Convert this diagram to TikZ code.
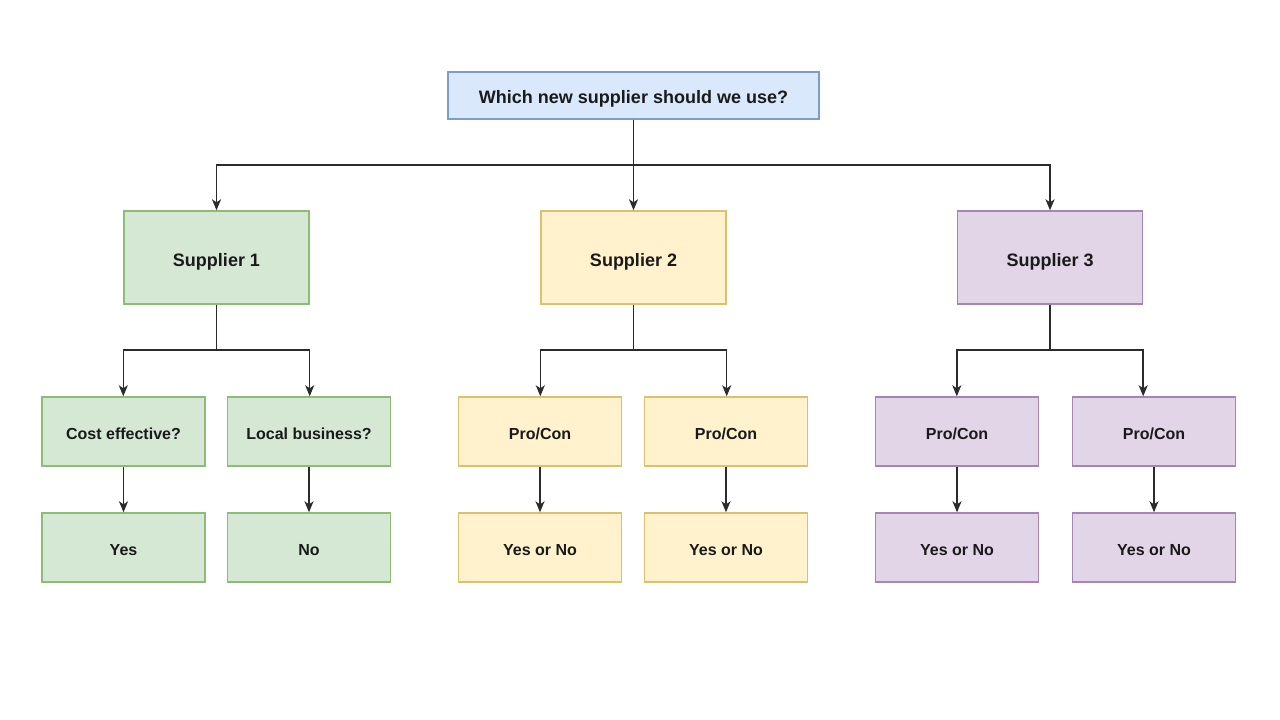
\documentclass[tikz,border=0pt]{standalone}
\usepackage{fontspec}
\setmainfont{Liberation Sans}
\usetikzlibrary{arrows.meta,calc}
\definecolor{bluefill}{HTML}{DAE8FC}\definecolor{bluedraw}{HTML}{7E9CC9}
\definecolor{greenfill}{HTML}{D5E8D4}\definecolor{greendraw}{HTML}{8EBC76}
\definecolor{yellowfill}{HTML}{FFF2CC}\definecolor{yellowdraw}{HTML}{DCC06E}
\definecolor{purplefill}{HTML}{E1D5E7}\definecolor{purpledraw}{HTML}{A386B1}
\definecolor{linecol}{HTML}{2B2B2B}
\definecolor{txt}{HTML}{1A1A1A}
\tikzset{
  x=1pt, y=-1pt,
  box/.style={draw, line width=1.4pt, inner sep=0pt, text=txt,
    font=\bfseries\fontsize{16}{19}\selectfont, align=center,
    text height=17.5pt, text depth=0.8pt},
  topbox/.style={box, fill=bluefill, draw=bluedraw, minimum width=371pt, minimum height=47pt,
    font=\bfseries\fontsize{18}{21}\selectfont, text height=16pt, text depth=0.9pt},
  supbox/.style={box, minimum width=185pt, minimum height=93pt,
    font=\bfseries\fontsize{18}{21}\selectfont, text height=19pt, text depth=0.9pt},
  smallbox/.style={box, minimum width=163pt, minimum height=69pt},
  gbox/.style={fill=greenfill, draw=greendraw},
  ybox/.style={fill=yellowfill, draw=yellowdraw},
  pbox/.style={fill=purplefill, draw=purpledraw},
  arr/.style={draw=linecol, line width=1.5pt, -{Stealth[length=11pt,width=9pt,inset=3pt]}},
}
\begin{document}
\begin{tikzpicture}
\fill[white] (0,0) rectangle (1280,720);
\useasboundingbox (0,0) rectangle (1280,720);

\node[topbox] (top) at (633.5,95.5) {Which new supplier should we use?};

\node[supbox,gbox] (s1) at (216.5,257.5) {Supplier 1};
\node[supbox,ybox] (s2) at (633.5,257.5) {Supplier 2};
\node[supbox,pbox] (s3) at (1050,257.5) {Supplier 3};

\node[smallbox,gbox] (c11) at (123.5,431.5) {Cost effective?};
\node[smallbox,gbox] (c12) at (309,431.5) {Local business?};
\node[smallbox,ybox] (c21) at (540,431.5) {Pro/Con};
\node[smallbox,ybox] (c22) at (726,431.5) {Pro/Con};
\node[smallbox,pbox] (c31) at (957,431.5) {Pro/Con};
\node[smallbox,pbox] (c32) at (1154,431.5) {Pro/Con};

\node[smallbox,gbox] (d11) at (123.5,547.5) {Yes};
\node[smallbox,gbox] (d12) at (309,547.5) {No};
\node[smallbox,ybox] (d21) at (540,547.5) {Yes or No};
\node[smallbox,ybox] (d22) at (726,547.5) {Yes or No};
\node[smallbox,pbox] (d31) at (957,547.5) {Yes or No};
\node[smallbox,pbox] (d32) at (1154,547.5) {Yes or No};

\coordinate (j0) at (633.5,165);
\coordinate (j1) at (216.5,350);
\coordinate (j2) at (633.5,350);
\coordinate (j3) at (1050,350);

% top to suppliers
\draw[arr] (top.south) -- (j0) -| (s1.north);
\draw[arr] (top.south) -- (s2.north);
\draw[arr] (j0) -| (s3.north);

% suppliers to children
\draw[arr] (s1.south) -- (j1) -| (c11.north -| s1.west);
\draw[arr] (j1) -| (c12.north -| s1.east);
\draw[arr] (s2.south) -- (j2) -| (c21.north -| s2.west);
\draw[arr] (j2) -| (c22.north -| s2.east);
\draw[arr] (s3.south) -- (j3) -| (c31.north -| s3.west);
\draw[arr] (j3) -| (c32.north -| s3.east);

% children to answers
\draw[arr] (c11) -- (d11);
\draw[arr] (c12) -- (d12);
\draw[arr] (c21) -- (d21);
\draw[arr] (c22) -- (d22);
\draw[arr] (c31) -- (d31);
\draw[arr] (c32) -- (d32);
\end{tikzpicture}
\end{document}
